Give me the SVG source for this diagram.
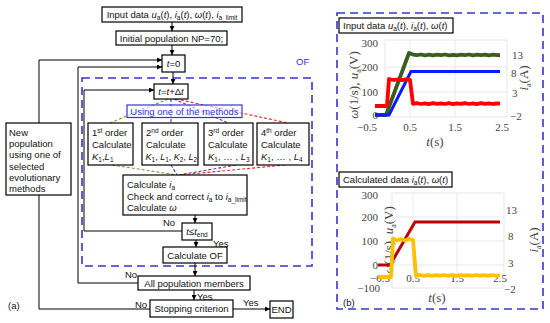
<svg xmlns="http://www.w3.org/2000/svg" width="550" height="323" viewBox="0 0 550 323">
<defs>
<marker id="ah" viewBox="0 0 6 6" refX="6" refY="3" markerWidth="5" markerHeight="5" orient="auto" markerUnits="userSpaceOnUse"><path d="M0,0 L6,3 L0,6 z" fill="#000"/></marker>
<style>
.bx{fill:#fff;stroke:#000;stroke-width:1.2}
.t{font-family:"Liberation Sans",Arial,sans-serif;font-size:9.5px;fill:#111}
.i{font-style:italic}
.sb{font-size:6.5px}
.ln{fill:none;stroke:#000;stroke-width:1}
.ar{fill:none;stroke:#000;stroke-width:1;marker-end:url(#ah)}
.dsh{fill:none;stroke:#3434d4;stroke-width:1.6;stroke-dasharray:8 5}
.dl{fill:none;stroke-width:1.1;stroke-dasharray:3 2}
.ax{font-family:"Liberation Serif","Times New Roman",serif;font-size:11px;fill:#444}
.axl{font-family:"Liberation Serif","Times New Roman",serif;font-size:13px;fill:#444}
.grid{fill:none;stroke:#e2e2e2;stroke-width:0.8}
</style>
</defs>
<rect width="550" height="323" fill="#fff"/>

<!-- OF dashed frame and right panel frame -->
<rect class="dsh" x="82" y="78" width="230" height="188"/>
<text class="t" x="296" y="65" style="fill:#3434d4">OF</text>
<rect class="dsh" x="337" y="13" width="206" height="296"/>

<g id="connectors">
<path class="ar" d="M172,22 V31"/>
<path class="ar" d="M172,45 V55"/>
<path class="ar" d="M173,72 V84"/>
<path class="ar" d="M195,215 V223"/>
<path class="ar" d="M196,240 V247"/>
<path class="ar" d="M195,263 V276"/>
<path class="ar" d="M194,290 V300"/>
<path class="ar" d="M233,309 H270"/>
<path class="ar" d="M182,231 H84 V90 H154"/>
<path class="ar" d="M138,283 H78 V67 H162"/>
<path class="ln" d="M150,309 H39 V195"/>
<path class="ar" d="M39,123 V60 H162"/>
<path class="dl" stroke="#6e9c3c" d="M168,99 L110,123"/>
<path class="dl" stroke="#2a3aa0" d="M171,99 V123"/>
<path class="dl" stroke="#7030a0" d="M174,99 L228,123"/>
<path class="dl" stroke="#ff2020" d="M176,99 L288,123"/>
<path class="dl" stroke="#6e9c3c" d="M112,165 L177,175"/>
<path class="dl" stroke="#2a3aa0" d="M171,165 L177,175"/>
<path class="dl" stroke="#7030a0" d="M236,165 L179,175"/>
<path class="dl" stroke="#ff2020" d="M285,165 L180,175"/>
<text class="t" x="163" y="225.5">No</text>
<text class="t" x="213" y="246.5">Yes</text>
<text class="t" x="125" y="277.5">No</text>
<text class="t" x="197" y="299.5">Yes</text>
<text class="t" x="135" y="307.5">No</text>
<text class="t" x="243" y="305.5">Yes</text>
</g>

<g id="input">
<rect class="bx" x="102" y="7" width="140" height="15"/>
<text class="t" x="172" y="18" text-anchor="middle">Input data <tspan class="i">u</tspan><tspan class="sb" dy="2">a</tspan><tspan dy="-2">(</tspan><tspan class="i">t</tspan>), <tspan class="i">i</tspan><tspan class="sb" dy="2">a</tspan><tspan dy="-2">(</tspan><tspan class="i">t</tspan>), <tspan class="i">ω</tspan>(<tspan class="i">t</tspan>), <tspan class="i">i</tspan><tspan class="sb" dy="2">a_limit</tspan></text>
</g>
<g id="initpop">
<rect class="bx" x="116" y="31" width="111" height="14"/>
<text class="t" x="171.5" y="41.5" text-anchor="middle">Initial population NP=70;</text>
</g>
<g id="t0">
<rect class="bx" x="162" y="55" width="23" height="17"/>
<text class="t" x="173.5" y="66.5" text-anchor="middle"><tspan class="i">t</tspan>=0</text>
</g>
<g id="tstep">
<rect class="bx" x="154" y="84" width="34" height="15"/>
<text class="t" x="171" y="94.8" text-anchor="middle"><tspan class="i">t</tspan>=<tspan class="i">t</tspan>+Δ<tspan class="i">t</tspan></text>
</g>
<g id="methods">
<rect x="127" y="105" width="115" height="12.5" fill="#fff" fill-opacity="0.6" stroke="#3434d4" stroke-width="1.2"/>
<text class="t" x="184.5" y="114.5" text-anchor="middle" style="fill:#3434d4">Using one of the methods</text>
</g>
<g id="order1">
<rect class="bx" x="88" y="123" width="45" height="42"/>
<text class="t" x="92" y="136">1<tspan class="sb" dy="-3">st</tspan><tspan dy="3"> order</tspan></text>
<text class="t" x="92" y="148">Calculate</text>
<text class="t" x="92" y="160"><tspan class="i">K</tspan><tspan class="sb" dy="2">1</tspan><tspan dy="-2">,</tspan><tspan class="i">L</tspan><tspan class="sb" dy="2">1</tspan></text>
</g>
<g id="order2">
<rect class="bx" x="142" y="123" width="56" height="42"/>
<text class="t" x="146" y="136">2<tspan class="sb" dy="-3">nd</tspan><tspan dy="3"> order</tspan></text>
<text class="t" x="146" y="148">Calculate</text>
<text class="t" x="145.5" y="160" style="font-size:9px"><tspan class="i">K</tspan><tspan class="sb" dy="2">1</tspan><tspan dy="-2">, </tspan><tspan class="i">L</tspan><tspan class="sb" dy="2">1</tspan><tspan dy="-2">, </tspan><tspan class="i">K</tspan><tspan class="sb" dy="2">2</tspan><tspan dy="-2">, </tspan><tspan class="i">L</tspan><tspan class="sb" dy="2">2</tspan></text>
</g>
<g id="order3">
<rect class="bx" x="204" y="123" width="49" height="42"/>
<text class="t" x="208" y="136">3<tspan class="sb" dy="-3">rd</tspan><tspan dy="3"> order</tspan></text>
<text class="t" x="208" y="148">Calculate</text>
<text class="t" x="208" y="160"><tspan class="i">K</tspan><tspan class="sb" dy="2">1</tspan><tspan dy="-2">, … , </tspan><tspan class="i">L</tspan><tspan class="sb" dy="2">3</tspan></text>
</g>
<g id="order4">
<rect class="bx" x="257" y="123" width="52" height="42"/>
<text class="t" x="261" y="136">4<tspan class="sb" dy="-3">th</tspan><tspan dy="3"> order</tspan></text>
<text class="t" x="261" y="148">Calculate</text>
<text class="t" x="261" y="160"><tspan class="i">K</tspan><tspan class="sb" dy="2">1</tspan><tspan dy="-2">, … , </tspan><tspan class="i">L</tspan><tspan class="sb" dy="2">4</tspan></text>
</g>
<g id="calc">
<rect class="bx" x="123" y="175" width="124" height="40"/>
<text class="t" x="127" y="188">Calculate <tspan class="i">i</tspan><tspan class="sb" dy="2">a</tspan></text>
<text class="t" x="127" y="199.5">Check and correct <tspan class="i">i</tspan><tspan class="sb" dy="2">a</tspan><tspan dy="-2"> to </tspan><tspan class="i">i</tspan><tspan class="sb" dy="2">a_limit</tspan></text>
<text class="t" x="127" y="211">Calculate <tspan class="i">ω</tspan></text>
</g>
<g id="tend">
<rect class="bx" x="182" y="223" width="30" height="17"/>
<text class="t" x="197" y="234.5" text-anchor="middle"><tspan class="i">t</tspan>≤<tspan class="i">t</tspan><tspan class="sb" dy="2">end</tspan></text>
</g>
<g id="calcof">
<rect class="bx" x="163" y="247" width="64" height="16"/>
<text class="t" x="195" y="258.5" text-anchor="middle">Calculate OF</text>
</g>
<g id="allpop">
<rect class="bx" x="138" y="276" width="112" height="14"/>
<text class="t" x="194" y="286.5" text-anchor="middle">All population members</text>
</g>
<g id="stop">
<rect class="bx" x="150" y="300" width="83" height="17"/>
<text class="t" x="191.5" y="311.8" text-anchor="middle">Stopping criterion</text>
</g>
<g id="end">
<rect class="bx" x="270" y="301" width="23" height="17"/>
<text class="t" x="281.5" y="312.8" text-anchor="middle">END</text>
</g>
<g id="newpop">
<rect class="bx" x="6" y="123" width="65" height="72"/>
<text class="t" x="9" y="136">New</text>
<text class="t" x="9" y="147.2">population</text>
<text class="t" x="9" y="158.4">using one of</text>
<text class="t" x="9" y="169.6">selected</text>
<text class="t" x="9" y="180.8">evolutionary</text>
<text class="t" x="9" y="192">methods</text>
</g>
<text class="t" x="8" y="309">(a)</text>

<!-- Panel (b) top plot -->
<g id="plot-top">
<rect class="grid" x="385" y="40" width="122" height="77"/>
<path class="grid" d="M410,40 V117 M455,40 V117 M385,67 H507 M385,92 H507"/>
<g class="ax" text-anchor="end">
<text x="378" y="47">300</text><text x="378" y="71">200</text><text x="378" y="96">100</text><text x="378" y="119">0</text>
</g>
<g class="ax" text-anchor="middle">
<text x="367" y="131">−0.5</text><text x="410" y="131">0.5</text><text x="455" y="131">1.5</text><text x="502" y="131">2.5</text>
</g>
<g class="ax">
<text x="512" y="59">13</text><text x="511" y="77">8</text><text x="512" y="97">3</text><text x="510" y="120">−2</text>
</g>
<text class="axl" x="435" y="146" text-anchor="middle"><tspan font-style="italic">t</tspan>(s)</text>
<text class="axl" transform="translate(358,85) rotate(-90)" text-anchor="middle"><tspan font-style="italic">ω</tspan>(1/s), <tspan font-style="italic">u</tspan><tspan font-size="8" dy="3">a</tspan><tspan dy="-3">(V)</tspan></text>
<text class="axl" transform="translate(528,78) rotate(-90)" text-anchor="middle"><tspan font-style="italic">i</tspan><tspan font-size="8" dy="3">a</tspan><tspan dy="-3">(A)</tspan></text>
<polyline fill="none" stroke="#3b5e1f" stroke-width="3.8" stroke-linejoin="round" points="375,115 386,115 409,53 413,54.6 417,55.2 421,54.5 425,55.3 429,54.7 433,55.4 437,54.6 441,55.2 445,54.5 449,55.3 453,54.8 457,55.4 461,54.6 465,55.2 469,54.5 473,55.4 477,54.7 481,55.2 485,54.6 489,55.3 493,54.7 497,55.2 500,55"/>
<polyline fill="none" stroke="#0a1aff" stroke-width="3" points="375,115 389,115 411,71.5 500,71.5"/>
<polyline fill="none" stroke="#ff0000" stroke-width="3.8" stroke-linejoin="round" points="375,106 387,106 389,79 394,80 398,79.3 402,80.2 406,79.4 410,80 413,103.8 417,103.2 421,104 425,103.3 429,104.1 433,103.2 437,103.9 441,103.3 445,104 449,103.2 453,104.1 457,103.3 461,103.9 465,103.2 469,104 473,103.3 477,104.1 481,103.2 485,103.9 489,103.3 493,104 497,103.4 500,103.6"/>
</g>
<g id="label-top">
<rect class="bx" x="339" y="18" width="114" height="15"/>
<text class="t" x="343" y="29">Input data <tspan class="i">u</tspan><tspan class="sb" dy="2">a</tspan><tspan dy="-2">(</tspan><tspan class="i">t</tspan>), <tspan class="i">i</tspan><tspan class="sb" dy="2">a</tspan><tspan dy="-2">(</tspan><tspan class="i">t</tspan>), <tspan class="i">ω</tspan>(<tspan class="i">t</tspan>)</text>
</g>

<!-- Panel (b) bottom plot -->
<g id="plot-bottom">
<rect class="grid" x="392" y="193" width="112" height="95"/>
<path class="grid" d="M413,193 V288 M457,193 V288 M392,217 H504 M392,241 H504 M392,265 H504"/>
<g class="ax" text-anchor="end">
<text x="378" y="199">300</text><text x="378" y="221">200</text><text x="378" y="245">100</text><text x="378" y="269">0</text><text x="380" y="292">−100</text>
</g>
<g class="ax" text-anchor="middle">
<text x="380" y="282">−0.5</text><text x="413" y="282">0.5</text><text x="457" y="282">1.5</text><text x="500" y="282">2.5</text>
</g>
<g class="ax">
<text x="506" y="214">13</text><text x="508" y="240">8</text><text x="508" y="267">3</text><text x="504" y="293">−2</text>
</g>
<text class="axl" x="437" y="302" text-anchor="middle"><tspan font-style="italic">t</tspan>(s)</text>
<text class="axl" transform="translate(393,240) rotate(-90)" text-anchor="middle"><tspan font-style="italic">ω</tspan>(1/s), <tspan font-style="italic">u</tspan><tspan font-size="8" dy="3">a</tspan><tspan dy="-3">(V)</tspan></text>
<text class="axl" transform="translate(538,240) rotate(-90)" text-anchor="middle"><tspan font-style="italic">i</tspan><tspan font-size="8" dy="3">a</tspan><tspan dy="-3">(A)</tspan></text>
<polyline fill="none" stroke="#c00000" stroke-width="3" points="378,265 390,265 415,222 500,222"/>
<polyline fill="none" stroke="#ffc000" stroke-width="3.8" stroke-linejoin="round" points="378,277 391,277 393,238.5 397,240.5 401,239 405,240.6 409,238.8 413,240 416,275.6 420,275 424,275.8 428,275.1 432,275.9 436,275.1 440,275.7 444,275 448,275.8 452,275.1 456,275.9 460,275 464,275.7 468,275.1 472,275.9 476,275 480,275.7 484,275.1 488,275.8 492,275 496,275.7 500,275.4"/>
</g>
<g id="label-bottom">
<rect class="bx" x="339" y="172" width="113" height="15"/>
<text class="t" x="343" y="183">Calculated data <tspan class="i">i</tspan><tspan class="sb" dy="2">a</tspan><tspan dy="-2">(</tspan><tspan class="i">t</tspan>), <tspan class="i">ω</tspan>(<tspan class="i">t</tspan>)</text>
</g>
<text class="t" x="343" y="306">(b)</text>
</svg>
